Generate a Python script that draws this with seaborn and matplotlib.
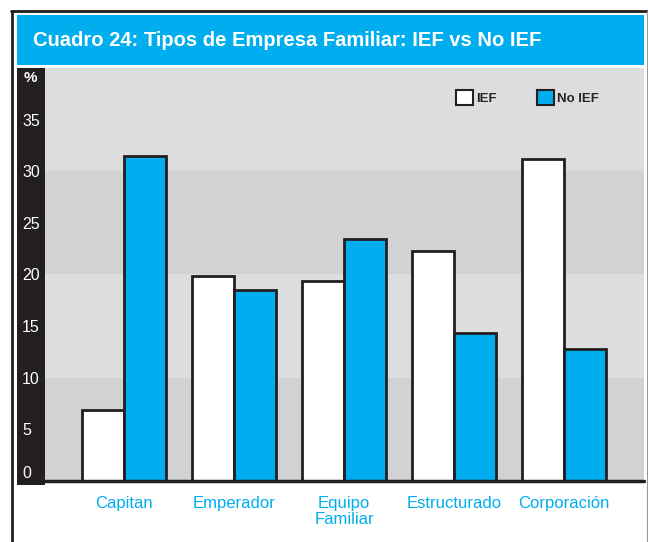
import matplotlib
matplotlib.use("Agg")
import matplotlib.pyplot as plt
import seaborn as sns
import pandas as pd
from matplotlib.patches import Rectangle, Patch
from matplotlib.lines import Line2D

categories = ["Capitan", "Emperador", "Equipo\nFamiliar", "Estructurado", "Corporación"]
ief = [6.9, 19.9, 19.4, 22.3, 31.2]
no_ief = [31.5, 18.5, 23.4, 14.3, 12.8]
series = ["IEF", "No IEF"]
yticks = [0, 5, 10, 15, 20, 25, 30, 35]
title = "Cuadro 24: Tipos de Empresa Familiar: IEF vs No IEF"

BLUE = "#00adef"
DARK = "#231f20"

sns.set_theme(style="white")
plt.rcParams["font.family"] = ["Liberation Sans", "DejaVu Sans"]

df = pd.DataFrame({
    "cat": categories * 2,
    "serie": [series[0]] * len(categories) + [series[1]] * len(categories),
    "val": ief + no_ief,
})

W, H = 648, 542
fig = plt.figure(figsize=(W / 100, H / 100), dpi=100)

def fx(px):
    return px / W

def fy(py):
    return 1 - py / H

# outer frame: dark top and left, thin grey right
fig.lines.append(Line2D([fx(12), fx(12)], [fy(10.5), fy(560)], transform=fig.transFigure,
                        color=DARK, lw=2.0, zorder=-2))
fig.lines.append(Line2D([fx(11), fx(648)], [fy(11), fy(11)], transform=fig.transFigure,
                        color=DARK, lw=2.0, zorder=-2))
fig.lines.append(Line2D([fx(646.8), fx(646.8)], [fy(11), fy(560)], transform=fig.transFigure,
                        color="#9a9a9a", lw=0.8, zorder=-2))
# title box
fig.patches.append(Rectangle((fx(17), fy(65)), fx(627), fy(15) - fy(65),
                             transform=fig.transFigure, facecolor=BLUE,
                             edgecolor="none", zorder=-2))
fig.text(fx(33), fy(41), title, color="white", fontsize=14.5,
         fontweight="bold", va="center", ha="left")

# y-axis black strip
fig.patches.append(Rectangle((fx(17), fy(485)), fx(28), fy(68) - fy(485),
                             transform=fig.transFigure, facecolor=DARK,
                             edgecolor="none", zorder=-1))

ax_left, ax_right, ax_top, ax_bot = 45, 644, 68, 481
ax = fig.add_axes([fx(ax_left), fy(ax_bot), fx(ax_right - ax_left), fy(ax_top) - fy(ax_bot)])
ax.set_facecolor("#dcdddf")

for lo, hi in [(0, 10), (20, 30)]:
    ax.axhspan(lo, hi, color="#d1d2d4", zorder=0, lw=0)

sns.barplot(data=df, x="cat", y="val", hue="serie", hue_order=series,
            palette=["white", BLUE], edgecolor=DARK, linewidth=2.0,
            width=0.765, gap=0, saturation=1, legend=False, ax=ax, zorder=3)

ax.set_ylim(0, 40)
ax.set_xlim(-0.72, 4.73)
ax.axhline(0, color=DARK, lw=2.5, zorder=4, clip_on=False)
for s in ax.spines.values():
    s.set_visible(False)
ax.grid(False)
ax.set_xlabel("")
ax.set_ylabel("")
ax.set_yticks(yticks)
ax.set_yticklabels([str(t) for t in yticks])
ax.tick_params(axis="y", length=0, colors="white", labelsize=11.5, pad=16.5)
for lab in ax.get_yticklabels():
    lab.set_horizontalalignment("left")
    if lab.get_text() == "0":
        lab.set_verticalalignment("bottom")
ax.tick_params(axis="x", length=0, colors=BLUE, labelsize=12, pad=11)
for lab in ax.get_xticklabels():
    lab.set_linespacing(1.05)
    lab.set_verticalalignment("top")

ax.text(-0.035, 0.976, "%", transform=ax.transAxes, color="white",
        fontsize=11, fontweight="bold", ha="left", va="center")

handles = [Patch(facecolor="white", edgecolor=DARK, lw=1.5),
           Patch(facecolor=BLUE, edgecolor=DARK, lw=1.5)]
ax.legend(handles, series, loc="center left", bbox_to_anchor=(0.686, 0.928),
          ncol=2, frameon=False, handlelength=1.3, handleheight=1.3,
          handletextpad=0.25, columnspacing=3.0,
          prop={"size": 9.5, "weight": "bold"}, borderaxespad=0, borderpad=0)

fig.savefig("out.png", dpi=100)
